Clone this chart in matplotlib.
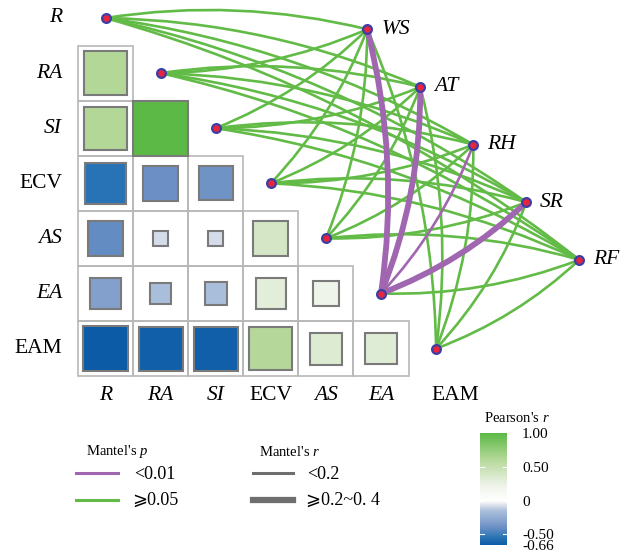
import numpy as np
import matplotlib
matplotlib.use("Agg")
import matplotlib.pyplot as plt
from matplotlib.patches import Rectangle, FancyArrowPatch
from matplotlib.colors import LinearSegmentedColormap, Normalize
from matplotlib.cm import ScalarMappable

plt.rcParams['font.family'] = ['Liberation Serif', 'DejaVu Sans']
plt.rcParams['mathtext.fontset'] = 'custom'
plt.rcParams['mathtext.rm'] = 'Liberation Serif'
plt.rcParams['mathtext.it'] = 'Liberation Serif:italic'

# --- data ---
variables = ['R', 'RA', 'SI', 'ECV', 'AS', 'EA', 'EAM']
italic_vars = ['R', 'RA', 'SI', 'AS', 'EA']

# Pearson's r, lower triangle (row variable vs earlier columns)
r_RA = [0.62]
r_SI = [0.62, 1.00]
r_ECV = [-0.55, -0.39, -0.38]
r_AS = [-0.42, -0.08, -0.08, 0.40]
r_EA = [-0.31, -0.155, -0.16, 0.30, 0.21]
r_EAM = [-0.66, -0.64, -0.64, 0.61, 0.34, 0.33]
pearson_rows = [r_RA, r_SI, r_ECV, r_AS, r_EA, r_EAM]

env_factors = ['WS', 'AT', 'RH', 'SR', 'RF']
# Mantel test: links with p < 0.01 (rest are >= 0.05)
mantel_p_small = [('WS', 'EA'), ('AT', 'EA'), ('RH', 'EA'), ('SR', 'EA')]
# links with 0.2 <= Mantel's r < 0.4 (rest are < 0.2)
mantel_r_large = [('WS', 'EA'), ('AT', 'EA'), ('SR', 'EA')]

cbar_ticks = [1.0, 0.5, 0.0, -0.5, -0.66]
cbar_labels = ['1.00', '0.50', '0', '-0.50', '-0.66']

# --- figure setup: 1 data unit = one heatmap cell ---
W, H, dpi = 637, 553, 100
cell = 55.1
ox, oy = 105.5, 18.0  # pixel position of the R node


def px2x(px):
    return (px - ox) / cell


def px2y(py):
    return -(py - oy) / cell


fig = plt.figure(figsize=(W / dpi, H / dpi), dpi=dpi)
ax = fig.add_axes([0, 0, 1, 1])
ax.set_xlim(px2x(0), px2x(W))
ax.set_ylim(px2y(H), px2y(0))
ax.axis('off')

vmin, vmax = -0.66, 1.0
stops = [(-0.66, '#0b5ba6'), (-0.55, '#2a74b6'), (-0.40, '#6a8fc4'),
         (-0.30, '#87a3cf'), (-0.15, '#abc0db'), (-0.05, '#e6e9f0'),
         (0.0, '#ffffff'), (0.2, '#f0f5ec'), (0.3, '#e4eedb'),
         (0.4, '#d4e6c5'), (0.6, '#b7d99c'), (1.0, '#5cb946')]
cmap = LinearSegmentedColormap.from_list(
    'pearson', [((v - vmin) / (vmax - vmin), c) for v, c in stops])
norm = Normalize(vmin, vmax)

# --- heatmap squares ---
for i, row in enumerate(pearson_rows, start=1):
    for j, r in enumerate(row):
        ax.add_patch(Rectangle((j - 0.5, -i - 0.5), 1, 1, fill=False,
                               edgecolor='#b8b8b8', lw=1.2, zorder=1))
        s = np.sqrt(abs(r))
        ax.add_patch(Rectangle((j - s / 2, -i - s / 2), s, s,
                               facecolor=cmap(norm(r)), edgecolor='#7a7a7a',
                               lw=1.5, zorder=2))

# axis labels
for k, v in enumerate(variables):
    style = 'italic' if v in italic_vars else 'normal'
    ax.text(px2x(62), -k, v, ha='right', va='center', fontsize=15.5,
            style=style)
    xoff = 0.35 if k == len(variables) - 1 else 0
    ax.text(k + xoff, px2y(395), v, ha='center', va='center', fontsize=15.5,
            style=style)

# --- Mantel links ---
env_start = np.array([4.75, -0.205])
env_step = np.array([0.962, -1.046])
env_pos = {e: env_start + k * env_step for k, e in enumerate(env_factors)}
var_pos = {v: np.array([k, -k], dtype=float) for k, v in enumerate(variables)}

links = []
for e in env_factors:
    for v in variables:
        sig = (e, v) in mantel_p_small
        big = (e, v) in mantel_r_large
        links.append((sig, big, e, v))
links.sort(key=lambda t: t[0])  # purple on top

for sig, big, e, v in links:
    a, b = var_pos[v], env_pos[e]
    rad = 0.1 if b[1] > a[1] else -0.1
    color = '#a066b0' if sig else '#62bb47'
    lw = 4.2 if big else 1.9
    ax.add_patch(FancyArrowPatch(tuple(a), tuple(b),
                                 connectionstyle=f'arc3,rad={rad}',
                                 arrowstyle='-', color=color, lw=lw,
                                 shrinkA=0, shrinkB=0, zorder=3))

node_x = [p[0] for p in var_pos.values()] + [p[0] for p in env_pos.values()]
node_y = [p[1] for p in var_pos.values()] + [p[1] for p in env_pos.values()]
ax.scatter(node_x, node_y, s=40, facecolor='#e8253c', edgecolor='#3b3fa6',
           lw=1.6, zorder=5)

for e in env_factors:
    x, y = env_pos[e]
    ax.text(x + 14 / cell, y, e, ha='left', va='center', fontsize=15.5,
            style='italic')

# --- Mantel legend ---
ax.text(px2x(86), px2y(452), "Mantel's $p$", ha='left', va='center',
        fontsize=10.5)
ax.plot([px2x(76), px2x(118)], [px2y(473)] * 2, color='#a066b0', lw=2.2)
ax.text(px2x(134), px2y(474), '<0.01', ha='left', va='center', fontsize=13)
ax.plot([px2x(76), px2x(118)], [px2y(499.5)] * 2, color='#62bb47', lw=2.2)
ax.text(px2x(132), px2y(500), '⩾0.05', ha='left', va='center', fontsize=13)

ax.text(px2x(259), px2y(452), "Mantel's $r$", ha='left', va='center',
        fontsize=10.5)
ax.plot([px2x(253), px2x(293)], [px2y(473)] * 2, color='#6e6e6e', lw=2.2)
ax.text(px2x(307), px2y(474), '<0.2', ha='left', va='center', fontsize=13)
ax.plot([px2x(253), px2x(293)], [px2y(499.5)] * 2, color='#6e6e6e', lw=4.5)
ax.text(px2x(306), px2y(500), '⩾0.2~0. 4', ha='left', va='center',
        fontsize=13)

# --- colorbar ---
cax = fig.add_axes([480 / W, 8 / H, 26.7 / W, 111.7 / H])
cb = fig.colorbar(ScalarMappable(norm=norm, cmap=cmap), cax=cax,
                  ticks=cbar_ticks)
cb.set_ticklabels(cbar_labels)
cb.outline.set_visible(False)
cax.tick_params(axis='y', length=0, pad=11, labelsize=11)
for v in [0.5, 0.0, -0.5]:
    cax.axhline(v, xmin=0, xmax=0.15, color='white', lw=0.8)
    cax.axhline(v, xmin=0.85, xmax=1, color='white', lw=0.8)
fig.text(484 / W, 1 - 418 / H, "Pearson's $r$", ha='left', va='center',
         fontsize=10.5)

fig.savefig('out.png', dpi=dpi)
